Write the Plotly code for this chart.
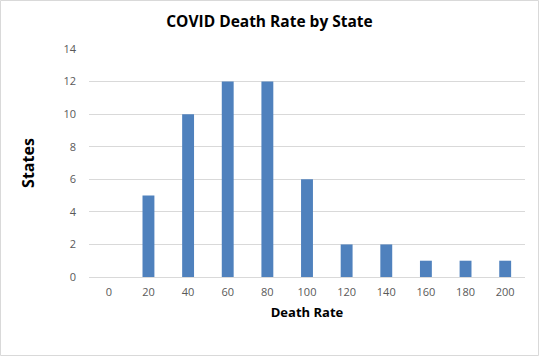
import plotly.graph_objects as go

categories = ["0", "20", "40", "60", "80", "100", "120", "140", "160", "180", "200"]
states = [0, 5, 10, 12, 12, 6, 2, 2, 1, 1, 1]
y_ticks = [0, 2, 4, 6, 8, 10, 12, 14]

fig = go.Figure(go.Bar(x=categories, y=states, marker_color="#4F81BD", marker_line_width=0))

font_family = "Open Sans, Liberation Sans, sans-serif"
fig.update_layout(
    width=539, height=356,
    margin=dict(l=89, r=14, t=49, b=79),
    paper_bgcolor="white", plot_bgcolor="white",
    bargap=0.7,
    showlegend=False,
    title=dict(text="<b>COVID Death Rate by State</b>", x=0.5, xanchor="center",
               y=1 - 22 / 356, yanchor="middle",
               font=dict(family=font_family, size=15.5, color="black")),
    font=dict(family=font_family),
)
fig.update_xaxes(type="category", showgrid=False, showline=True, linecolor="#D9D9D9", linewidth=1,
                 ticks="", ticklabelstandoff=5, tickfont=dict(size=11, color="#595959"),
                 title=dict(text="<b>Death Rate</b>", font=dict(size=13, color="black"), standoff=9))
fig.update_yaxes(range=[0, 14], tickvals=y_ticks, showgrid=True, gridcolor="#D9D9D9", gridwidth=1,
                 zeroline=False, showline=False, ticks="", ticklabelstandoff=12,
                 tickfont=dict(size=11, color="#595959"),
                 title=dict(text="<b>States</b>", font=dict(size=16, color="black"), standoff=24))
fig.add_shape(type="rect", xref="paper", yref="paper", x0=-88.5/436, x1=1+13.5/436, y0=-78.5/228, y1=1+48.5/228,
              line=dict(color="#D9D9D9", width=1), fillcolor="rgba(0,0,0,0)")
fig.write_html("out.html", config={"displayModeBar": False},
               post_script="document.body.style.margin='0';document.body.style.overflow='hidden';")
